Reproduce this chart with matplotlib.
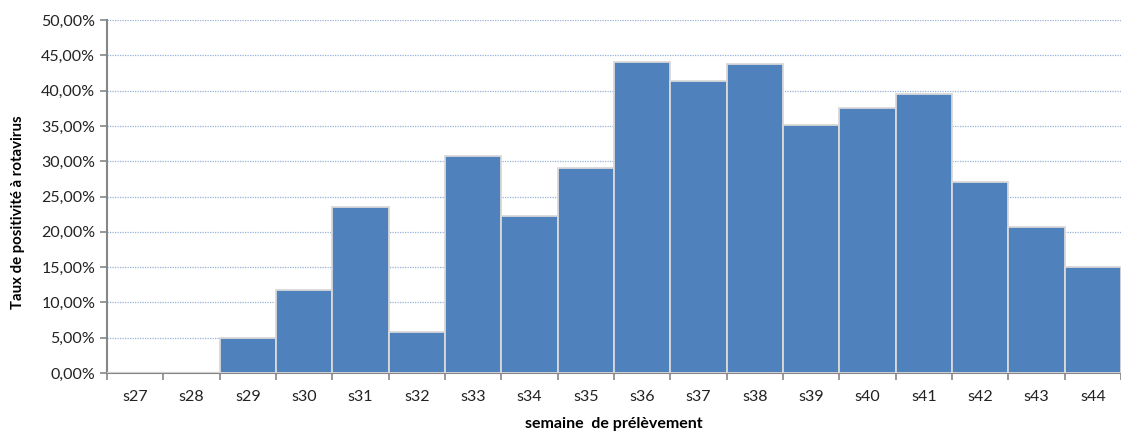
import matplotlib.pyplot as plt
import numpy as np
from matplotlib.ticker import FuncFormatter, MultipleLocator

semaines = ['s27', 's28', 's29', 's30', 's31', 's32', 's33', 's34', 's35',
            's36', 's37', 's38', 's39', 's40', 's41', 's42', 's43', 's44']
taux = [0.0, 0.0, 5.0, 11.8, 23.5, 5.8, 30.7, 22.2, 29.0,
        44.0, 41.4, 43.8, 35.1, 37.6, 39.5, 27.0, 20.7, 15.0]

plt.rcParams['font.family'] = ['Lato', 'DejaVu Sans']

fig = plt.figure(figsize=(11.21, 4.38), dpi=100)
ax = fig.add_axes([107 / 1121, 1 - 373 / 438, 1 - 107 / 1121, (373 - 20) / 438])

x = np.arange(len(semaines))
ax.bar(x, taux, width=1.0, color='#4F81BD', edgecolor='#D9D9D9', linewidth=1.3, zorder=3)

ax.set_xlim(-0.5, len(semaines) - 0.5)
ax.set_ylim(0, 50)
ax.yaxis.set_major_locator(MultipleLocator(5))
ax.yaxis.set_major_formatter(FuncFormatter(lambda v, p: f'{v:.2f}%'.replace('.', ',')))
ax.grid(axis='y', color='#95B3D7', linestyle=(0, (1, 1)), linewidth=0.9, zorder=0)

ax.set_xticks(x)
ax.set_xticklabels(semaines)
ax.set_xticks(np.arange(-0.5, len(semaines)), minor=True)
ax.tick_params(axis='x', which='major', length=0, pad=12, labelsize=11.5, colors='#222222')
ax.tick_params(axis='x', which='minor', length=5, width=1.2, color='#868686')
ax.tick_params(axis='y', length=5, width=1.2, color='#868686', labelsize=11.5, labelcolor='#222222')

for s in ['top', 'right']:
    ax.spines[s].set_visible(False)
for s in ['left', 'bottom']:
    ax.spines[s].set_color('#868686')
    ax.spines[s].set_linewidth(1.5)

ax.set_ylabel('Taux de positivité à rotavirus', fontsize=10.8, fontweight='bold')
ax.yaxis.set_label_coords(-0.081, 0.456)
ax.set_xlabel('semaine  de prélèvement', fontsize=11.5, fontweight='bold')
ax.xaxis.set_label_coords(0.5, -0.125)

fig.savefig('out.png', dpi=100)
